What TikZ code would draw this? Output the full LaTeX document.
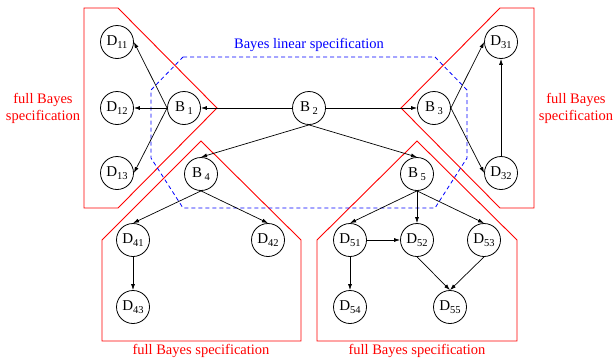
\documentclass[tikz,border=0pt]{standalone}
\usepackage{fontspec}
\setmainfont{Liberation Serif}
\usetikzlibrary{arrows.meta}
\newcommand\mysub[1]{\raisebox{-0.4ex}{\fontsize{10.5}{10.5}\selectfont #1}}
\begin{document}
\begin{tikzpicture}[x=1pt,y=-1pt,
  vn/.style={circle,draw,line width=0.8pt,minimum size=33pt,inner sep=0pt,font=\fontsize{15}{15}\selectfont},
  ed/.style={-{Latex[length=6pt,width=4pt]},line width=0.7pt},
  region/.style={red,line width=0.9pt},
  lin/.style={blue,line width=0.8pt,dash pattern=on 4pt off 3pt},
  lab/.style={red,font=\fontsize{14.5}{17}\selectfont,align=center}]
\useasboundingbox (0,0) rectangle (615,359);
% full Bayes regions
\draw[region] (84,8) -- (118,8) -- (217,108) -- (118,208) -- (84,208) -- cycle;
\draw[region] (534,8) -- (500,8) -- (401,108) -- (500,208) -- (534,208) -- cycle;
\draw[region] (201,141) -- (301,240) -- (301,341) -- (102,341) -- (102,240) -- cycle;
\draw[region] (417,141) -- (517,240) -- (517,341) -- (317,341) -- (317,240) -- cycle;
% Bayes linear region
\draw[lin] (183,57) -- (435,57) -- (467,90) -- (467,158) -- (435,208) -- (183,208) -- (151,158) -- (151,90) -- cycle;
% labels
\node[lab] (lL) at (43,108) {full Bayes\\specification};
\node[lab] (lR) at (576,108) {full Bayes\\specification};
\node[lab] (lB4) at (201,351) {full Bayes specification};
\node[lab] (lB5) at (417,351) {full Bayes specification};
\node[lab,blue] (lLin) at (309,45) {Bayes linear specification};
% nodes
\node[vn] (B1) at (184,108) {B\,\mysub{1}};
\node[vn] (B2) at (309,108) {B\,\mysub{2}};
\node[vn] (B3) at (434,108) {B\,\mysub{3}};
\node[vn] (B4) at (201,174) {B\,\mysub{4}};
\node[vn] (B5) at (417,174) {B\,\mysub{5}};
\node[vn] (D11) at (117,42) {D\mysub{11}};
\node[vn] (D12) at (117,108) {D\mysub{12}};
\node[vn] (D13) at (117,173) {D\mysub{13}};
\node[vn] (D31) at (501,42) {D\mysub{31}};
\node[vn] (D32) at (501,173) {D\mysub{32}};
\node[vn] (D41) at (133,240) {D\mysub{41}};
\node[vn] (D42) at (268,240) {D\mysub{42}};
\node[vn] (D43) at (133,307) {D\mysub{43}};
\node[vn] (D51) at (350,240) {D\mysub{51}};
\node[vn] (D52) at (417,240) {D\mysub{52}};
\node[vn] (D53) at (484,240) {D\mysub{53}};
\node[vn] (D54) at (350,307) {D\mysub{54}};
\node[vn] (D55) at (450,307) {D\mysub{55}};
% edges
\draw[ed] (B2.west) -- (B1.east);
\draw[ed] (B2.east) -- (B3.west);
\draw[ed] (B2.south) -- (B4.north);
\draw[ed] (B2.south) -- (B5.north);
\draw[ed] (B1.west) -- (D11.east);
\draw[ed] (B1.west) -- (D12.east);
\draw[ed] (B1.west) -- (D13.east);
\draw[ed] (B3.east) -- (D31.west);
\draw[ed] (B3.east) -- (D32.west);
\draw[ed] (D32.north) -- (D31.south);
\draw[ed] (B4.south) -- (D41.north);
\draw[ed] (B4.south) -- (D42.north);
\draw[ed] (D41.south) -- (D43.north);
\draw[ed] (B5.south) -- (D51.north);
\draw[ed] (B5.south) -- (D52.north);
\draw[ed] (B5.south) -- (D53.north);
\draw[ed] (D51.east) -- (D52.west);
\draw[ed] (D51.south) -- (D54.north);
\draw[ed] (D52.south) -- (D55.north);
\draw[ed] (D53.south) -- (D55.north);
\end{tikzpicture}
\end{document}
